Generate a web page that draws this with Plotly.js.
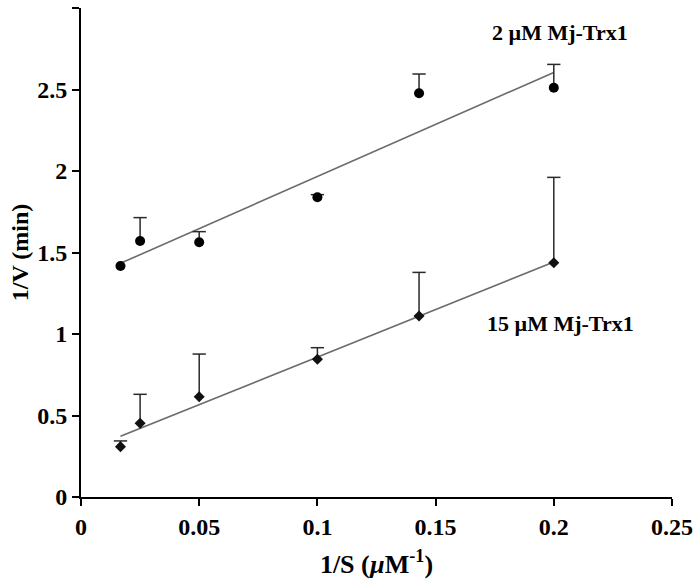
<!DOCTYPE html>
<html>
<head>
<meta charset="utf-8">
<script src="https://cdn.plot.ly/plotly-3.0.1.min.js"></script>
<style>html,body{margin:0;padding:0;background:#fff;}#chart{width:693px;height:584px;}</style>
</head>
<body>
<div id="chart"></div>
<script>
// 1/S values (µM^-1)
var invS = [0.0167, 0.025, 0.05, 0.1, 0.143, 0.2];
// 2 µM Mj-Trx1 series
var low_trx_invV = [1.417, 1.571, 1.563, 1.839, 2.477, 2.511];
var low_trx_err  = [0.0, 0.143, 0.065, 0.016, 0.118, 0.143];
// 15 µM Mj-Trx1 series
var high_trx_invV = [0.309, 0.452, 0.615, 0.845, 1.110, 1.437];
var high_trx_err  = [0.035, 0.178, 0.262, 0.071, 0.268, 0.524];
var xTickVals = [0, 0.05, 0.1, 0.15, 0.2, 0.25];
var xTickText = ['0', '0.05', '0.1', '0.15', '0.2', '0.25'];
var yTickVals = [0, 0.5, 1, 1.5, 2, 2.5, 3];
var yTickText = ['0', '0.5', '1', '1.5', '2', '2.5', '3'];
var labels = ['2 µM Mj-Trx1', '15 µM Mj-Trx1'];

function fit(xs, ys) {
  var n = xs.length, mx = 0, my = 0;
  for (var i = 0; i < n; i++) { mx += xs[i]; my += ys[i]; }
  mx /= n; my /= n;
  var sxy = 0, sxx = 0;
  for (var j = 0; j < n; j++) { sxy += (xs[j]-mx)*(ys[j]-my); sxx += (xs[j]-mx)*(xs[j]-mx); }
  var b = sxy / sxx, a = my - b * mx;
  var x0 = Math.min.apply(null, xs), x1 = Math.max.apply(null, xs);
  return {x: [x0, x1], y: [a + b * x0, a + b * x1]};
}
function tops(ys, es) { return ys.map(function (v, i) { return v + es[i]; }); }
function zeros(a) { return a.map(function () { return 0; }); }

var fitLow = fit(invS, low_trx_invV);
var fitHigh = fit(invS, high_trx_invV);
var errColor = '#2a2a2a';
var serif = 'Liberation Serif, Times New Roman, serif';

var traces = [
  {x: fitLow.x, y: fitLow.y, mode: 'lines', line: {color: '#6b6b6b', width: 1.6}, hoverinfo: 'skip'},
  {x: fitHigh.x, y: fitHigh.y, mode: 'lines', line: {color: '#6b6b6b', width: 1.6}, hoverinfo: 'skip'},
  // error bar stems
  {x: invS, y: low_trx_invV, mode: 'markers', marker: {size: 1, opacity: 0},
   error_y: {type: 'data', symmetric: false, array: low_trx_err, arrayminus: zeros(low_trx_err), color: errColor, thickness: 1.5, width: 0}},
  {x: invS, y: high_trx_invV, mode: 'markers', marker: {size: 1, opacity: 0},
   error_y: {type: 'data', symmetric: false, array: high_trx_err, arrayminus: zeros(high_trx_err), color: errColor, thickness: 1.5, width: 0}},
  // error bar caps
  {x: invS.filter(function (v, i) { return low_trx_err[i] > 0; }),
   y: tops(low_trx_invV, low_trx_err).filter(function (v, i) { return low_trx_err[i] > 0; }),
   mode: 'markers', marker: {symbol: 'line-ew', size: 9.5, line: {color: errColor, width: 1.5}}},
  {x: invS, y: tops(high_trx_invV, high_trx_err), mode: 'markers',
   marker: {symbol: 'line-ew', size: 9.5, line: {color: errColor, width: 1.5}}},
  // data markers
  {x: invS, y: low_trx_invV, mode: 'markers', marker: {symbol: 'circle', size: 10, color: '#000'}},
  {x: invS, y: high_trx_invV, mode: 'markers', marker: {symbol: 'diamond', size: 8.5, color: '#111'}}
];

var layout = {
  width: 693, height: 584,
  margin: {l: 81, r: 21, t: 8, b: 87},
  paper_bgcolor: '#fff', plot_bgcolor: '#fff',
  showlegend: false,
  hovermode: false,
  font: {family: serif, color: '#000'},
  xaxis: {
    range: [0, 0.25], tickvals: xTickVals, ticktext: xTickText,
    showgrid: false, zeroline: false, showline: true, linecolor: '#000', linewidth: 2,
    ticks: 'outside', ticklen: 7, tickwidth: 2, tickcolor: '#000',
    tickfont: {family: serif, size: 24, weight: 'bold', color: '#000'},
    title: {text: '1/S (<i>µ</i>M<sup>-1</sup>)', font: {family: serif, size: 26, weight: 'bold', color: '#000'}, standoff: 16}
  },
  yaxis: {
    range: [0, 3], tickvals: yTickVals, ticktext: yTickText,
    showgrid: false, zeroline: false, showline: true, linecolor: '#000', linewidth: 2,
    ticks: 'outside', ticklen: 7, tickwidth: 2, tickcolor: '#000',
    tickfont: {family: serif, size: 24, weight: 'bold', color: '#000'},
    title: {text: '1/V (min)', font: {family: serif, size: 24, weight: 'bold', color: '#000'}, standoff: 2}
  },
  annotations: [
    {x: 0.2026, y: 2.847, xref: 'x', yref: 'y', text: labels[0], showarrow: false,
     font: {family: serif, size: 22, weight: 'bold', color: '#000'}},
    {x: 0.2030, y: 1.067, xref: 'x', yref: 'y', text: labels[1], showarrow: false,
     font: {family: serif, size: 22, weight: 'bold', color: '#000'}}
  ]
};

Plotly.newPlot('chart', traces, layout, {displayModeBar: false, staticPlot: true});
</script>
</body>
</html>
